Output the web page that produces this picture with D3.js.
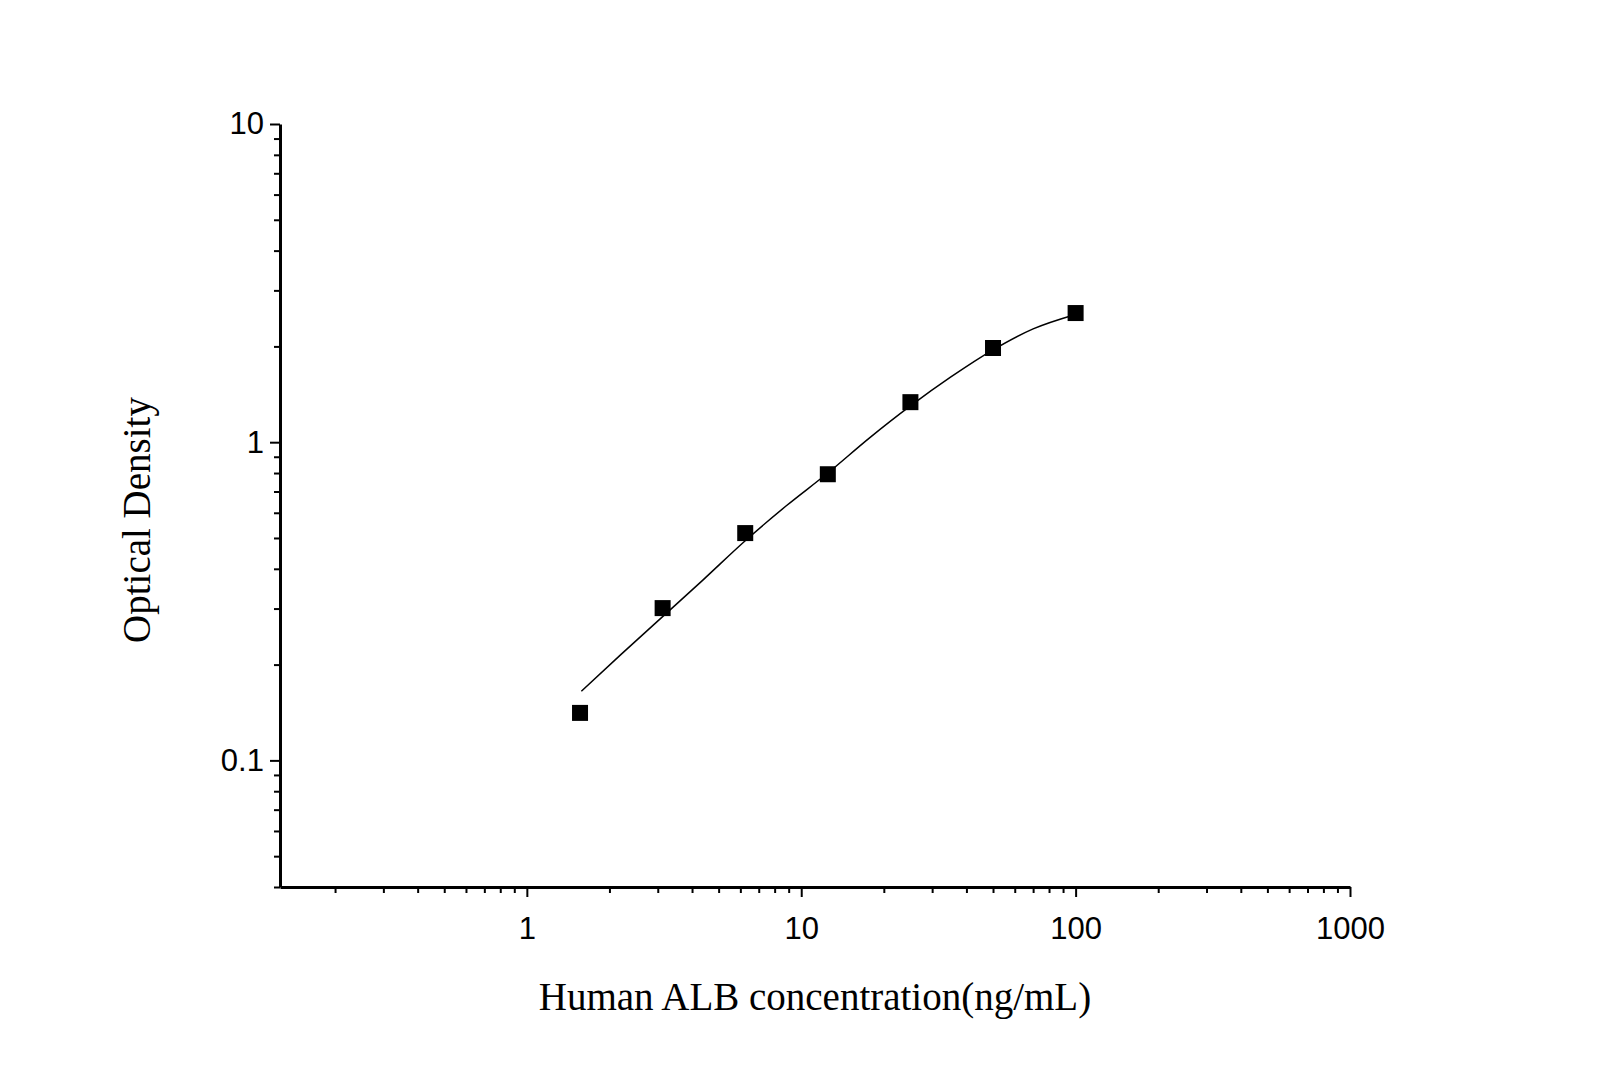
<!DOCTYPE html>
<html><head><meta charset="utf-8">
<script src="https://cdn.jsdelivr.net/npm/d3@7"></script>
<style>body{margin:0;background:#fff}</style></head>
<body><svg id="c" width="1605" height="1090"></svg>
<script>
const concentrations=[1.5625,3.125,6.25,12.5,25,50,100];
const opticalDensity=[0.141,0.301,0.518,0.793,1.336,1.977,2.546];
const curveX=[1.58,2.2,3.125,4.4,6.25,8.8,12.5,17.7,25,35,50,70,100];
const curveY=[0.165,0.215,0.283,0.37,0.49,0.63,0.80,1.03,1.30,1.60,1.95,2.27,2.52];
const xTickLabels=[1,10,100,1000];
const yTickLabels=[0.1,1,10];
const svg=d3.select("#c");
const x=d3.scaleLog().domain([0.126,1000]).range([280,1350]);
const y=d3.scaleLog().domain([0.04,10]).range([887,124]);
const xMinor=[],yMinor=[];
for(let d=0.1;d<1000;d*=10)for(let k=2;k<10;k++){const v=d*k;if(v>=0.126&&v<=1000)xMinor.push(v);}
for(let d=0.01;d<10;d*=10)for(let k=2;k<10;k++){const v=d*k;if(v>=0.04&&v<=10)yMinor.push(v);}
const g=svg.append("g");
const xa=g.append("g").attr("transform","translate(0,887)").call(d3.axisBottom(x).tickValues(xTickLabels).tickFormat(d3.format("d")).tickSize(10).tickSizeOuter(0));
g.append("g").attr("transform","translate(0,887)").call(d3.axisBottom(x).tickValues(xMinor).tickFormat("").tickSize(6).tickSizeOuter(0)).select(".domain").remove();
const ya=g.append("g").attr("transform","translate(280,0)").call(d3.axisLeft(y).tickValues(yTickLabels).tickFormat(d=>String(d)).tickSize(10).tickSizeOuter(0));
g.append("g").attr("transform","translate(280,0)").call(d3.axisLeft(y).tickValues(yMinor).tickFormat("").tickSize(6).tickSizeOuter(0)).select(".domain").remove();
svg.selectAll(".domain").attr("stroke-width",3).attr("stroke","#000");
svg.selectAll(".tick line").attr("stroke-width",2).attr("stroke","#000");
xa.selectAll("text").attr("font-family","Liberation Sans, Arial").attr("font-size",31).attr("dy","1.25em").attr("fill","#000");
ya.selectAll("text").attr("font-family","Liberation Sans, Arial").attr("font-size",31).attr("dx","-0.1em").attr("fill","#000");
const pts=curveX.map((v,i)=>[v,curveY[i]]);
svg.append("path").attr("d",d3.line().x(d=>x(d[0])).y(d=>y(d[1])).curve(d3.curveMonotoneX)(pts))
 .attr("fill","none").attr("stroke","#000").attr("stroke-width",1.5);
svg.selectAll("rect.pt").data(concentrations).join("rect").attr("class","pt")
 .attr("x",d=>x(d)-8).attr("y",(d,i)=>y(opticalDensity[i])-8).attr("width",16).attr("height",16).attr("fill","#000");
svg.append("text").attr("x",815).attr("y",1010).attr("text-anchor","middle").attr("font-family","Liberation Serif, Times New Roman").attr("font-size",39).text("Human ALB concentration(ng/mL)");
svg.append("text").attr("transform","translate(150,520) rotate(-90)").attr("text-anchor","middle").attr("font-family","Liberation Serif, Times New Roman").attr("font-size",39).text("Optical Density");
</script></body></html>
